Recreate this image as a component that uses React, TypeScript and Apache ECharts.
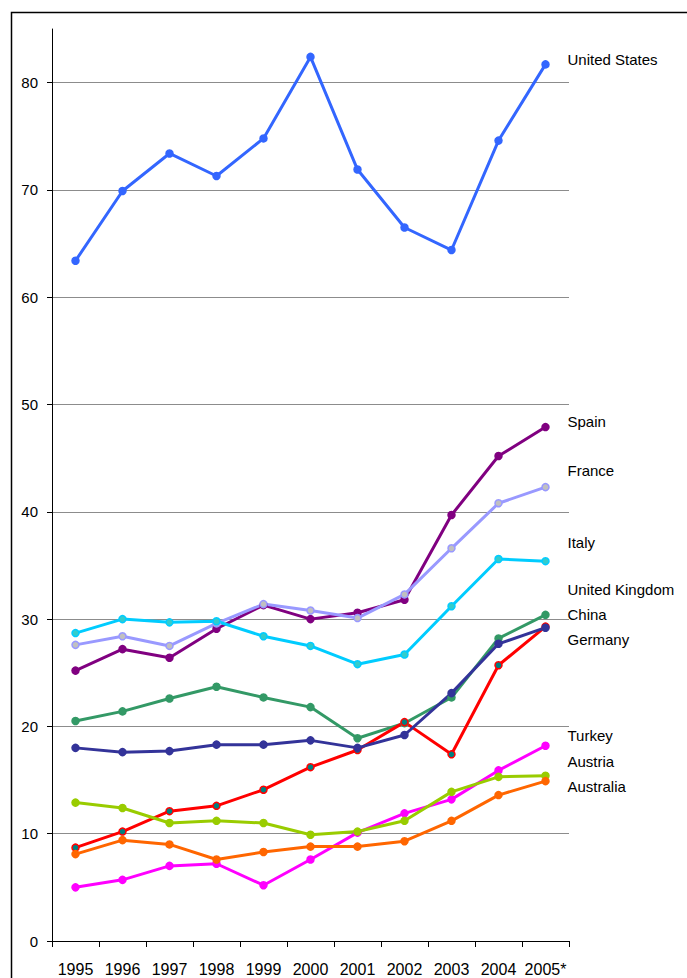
import React, { useEffect, useRef } from "react";
import * as echarts from "echarts";

// International tourism receipts, billions of US$
const years = ["1995", "1996", "1997", "1998", "1999", "2000", "2001", "2002", "2003", "2004", "2005*"];

const unitedStates = [63.4, 69.9, 73.4, 71.3, 74.8, 82.4, 71.9, 66.5, 64.4, 74.6, 81.7];
const spain = [25.2, 27.2, 26.4, 29.1, 31.3, 30.0, 30.6, 31.8, 39.7, 45.2, 47.9];
const france = [27.6, 28.4, 27.5, 29.6, 31.4, 30.8, 30.1, 32.3, 36.6, 40.8, 42.3];
const italy = [28.7, 30.0, 29.7, 29.8, 28.4, 27.5, 25.8, 26.7, 31.2, 35.6, 35.4];
const unitedKingdom = [20.5, 21.4, 22.6, 23.7, 22.7, 21.8, 18.9, 20.3, 22.7, 28.2, 30.4];
const china = [8.7, 10.2, 12.1, 12.6, 14.1, 16.2, 17.8, 20.4, 17.4, 25.7, 29.3];
const germany = [18.0, 17.6, 17.7, 18.3, 18.3, 18.7, 18.0, 19.2, 23.1, 27.7, 29.2];
const turkey = [5.0, 5.7, 7.0, 7.2, 5.2, 7.6, 10.1, 11.9, 13.2, 15.9, 18.2];
const austria = [12.9, 12.4, 11.0, 11.2, 11.0, 9.9, 10.2, 11.2, 13.9, 15.3, 15.4];
const australia = [8.1, 9.4, 9.0, 7.6, 8.3, 8.8, 8.8, 9.3, 11.2, 13.6, 14.9];

const yTicks = [0, 10, 20, 30, 40, 50, 60, 70, 80];

const FONT = "'Liberation Sans', Arial, sans-serif";

type Line = {
  name: string;
  data: number[];
  line: string;
  dot: string;
  labelDy: number;
};

const lines: Line[] = [
  { name: "United States", data: unitedStates, line: "#3366ff", dot: "#3366ff", labelDy: -5 },
  { name: "Spain", data: spain, line: "#800080", dot: "#800080", labelDy: -6 },
  { name: "France", data: france, line: "#9999ff", dot: "#c0c0c0", labelDy: -17 },
  { name: "Italy", data: italy, line: "#00ccff", dot: "#33cccc", labelDy: -19 },
  { name: "United Kingdom", data: unitedKingdom, line: "#339966", dot: "#339966", labelDy: -25 },
  { name: "China", data: china, line: "#ff0000", dot: "#008080", labelDy: -12 },
  { name: "Germany", data: germany, line: "#333399", dot: "#333399", labelDy: 12 },
  { name: "Turkey", data: turkey, line: "#ff00ff", dot: "#ff00ff", labelDy: -10 },
  { name: "Austria", data: austria, line: "#99cc00", dot: "#99cc00", labelDy: -14 },
  { name: "Australia", data: australia, line: "#ff6600", dot: "#ff6600", labelDy: 5 },
];

export default function App() {
  const ref = useRef<HTMLDivElement>(null);

  useEffect(() => {
    if (!ref.current) return;
    const chart = echarts.init(ref.current, undefined, { renderer: "svg" });

    chart.setOption({
      animation: false,
      backgroundColor: "#ffffff",
      grid: { left: 52, right: 118, top: 29, bottom: 37, containLabel: false },
      xAxis: {
        type: "category",
        data: years,
        boundaryGap: true,
        axisLine: { show: true, lineStyle: { color: "#000", width: 1 } },
        axisTick: { show: true, length: 6, interval: 0, lineStyle: { color: "#000", width: 1 } },
        axisLabel: { color: "#000", fontFamily: FONT, fontSize: 16, margin: 20, interval: 0 },
        splitLine: { show: false },
      },
      yAxis: {
        type: "value",
        min: 0,
        max: 85,
        interval: 10,
        axisLine: { show: true, lineStyle: { color: "#000", width: 1 } },
        axisTick: { show: true, length: 5, lineStyle: { color: "#000", width: 1 } },
        axisLabel: {
          color: "#000",
          fontFamily: FONT,
          fontSize: 15,
          margin: 14,
          showMaxLabel: false,
          formatter: (v: number) => (yTicks.includes(v) ? String(v) : ""),
        },
        splitLine: {
          show: true,
          showMinLine: false,
          showMaxLine: false,
          lineStyle: { color: "#8c8c8c", width: 1 },
        },
      },
      graphic: [
        {
          type: "rect",
          silent: true,
          z: 100,
          shape: { x: 11.5, y: 12.5, width: 800, height: 1100 },
          style: { fill: "none", stroke: "#000", lineWidth: 1.5 },
        },
      ],
      series: lines.map((l) => ({
        type: "line",
        name: l.name,
        data: l.data,
        symbol: "circle",
        symbolSize: 7,
        showAllSymbol: true,
        lineStyle: { color: l.line, width: 3 },
        itemStyle: { color: l.dot, borderColor: l.line, borderWidth: 1.5 },
        emphasis: { disabled: true },
        endLabel: {
          show: true,
          formatter: l.name,
          color: "#000",
          fontFamily: FONT,
          fontSize: 15,
          distance: 22,
          offset: [0, l.labelDy],
        },
      })),
    });

    return () => chart.dispose();
  }, []);

  return (
    <div
      ref={ref}
      style={{ position: "fixed", left: 0, top: 0, width: 687, height: 978, overflow: "hidden" }}
    />
  );
}
